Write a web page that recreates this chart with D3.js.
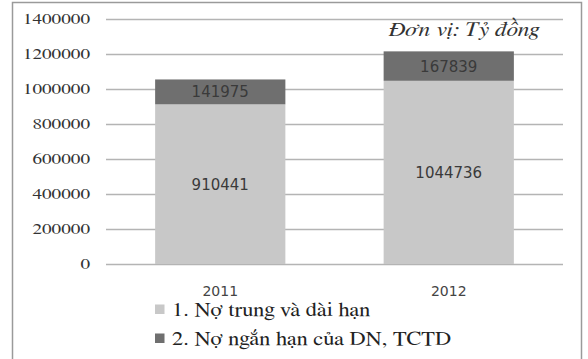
<!DOCTYPE html>
<html>
<head>
<meta charset="utf-8">
<script src="https://cdn.jsdelivr.net/npm/d3@7/dist/d3.min.js"></script>
</head>
<body style="margin:0">
<svg id="chart" width="588" height="359"></svg>
<script>
// Debt structure by year (unit: billion VND)
const years = ["2011", "2012"];
const longTerm = [910441, 1044736];
const shortTerm = [141975, 167839];
const seriesNames = ["1. Nợ trung và dài hạn", "2. Nợ ngắn hạn của DN, TCTD"];
const yTicks = [0, 200000, 400000, 600000, 800000, 1000000, 1200000, 1400000];
const unitLabel = "Đơn vị: Tỷ đồng";

const colors = ["#c8c8c8", "#6f6f6f"];
const SANS = "DejaVu Sans";

const svg = d3.select("#chart");

// outer frame
svg.append("rect")
  .attr("x", 12.5).attr("y", 2.5)
  .attr("width", 569).attr("height", 370)
  .attr("fill", "#fff")
  .attr("stroke", "#9a9a9a").attr("stroke-width", 1.5);

const plot = { left: 106, right: 563, top: 18.5, bottom: 264 };

const x = d3.scaleBand()
  .domain(years)
  .range([plot.left, plot.right])
  .paddingInner(0.43)
  .paddingOuter(0.215);

const y = d3.scaleLinear()
  .domain([0, 1400000])
  .range([plot.bottom, plot.top]);

// gridlines
svg.append("g")
  .selectAll("line")
  .data(yTicks)
  .join("line")
  .attr("x1", plot.left).attr("x2", plot.right)
  .attr("y1", d => Math.round(y(d)) + 0.5)
  .attr("y2", d => Math.round(y(d)) + 0.5)
  .attr("stroke", "#b4b4b4").attr("stroke-width", 1.3);

// y tick labels (wide serif digits)
yTicks.forEach(t => {
  svg.append("text")
    .attr("style", "font-family: FreeSerif; font-size: 16px")
    .attr("transform", `translate(90,${y(t) + 5}) scale(1.2,1)`)
    .attr("text-anchor", "end")
    .attr("fill", "#333")
    .text(String(t));
});

// stacked data
const rows = years.map((yr, i) => ({ year: yr, a: longTerm[i], b: shortTerm[i] }));
const stack = d3.stack().keys(["a", "b"]);
const layers = stack(rows);

layers.forEach((layer, li) => {
  svg.append("g")
    .selectAll("rect")
    .data(layer)
    .join("rect")
    .attr("x", d => x(d.data.year))
    .attr("width", x.bandwidth())
    .attr("y", d => y(d[1]))
    .attr("height", d => y(d[0]) - y(d[1]))
    .attr("fill", colors[li]);
});

// value labels
layers.forEach((layer, li) => {
  layer.forEach(d => {
    svg.append("text")
      .attr("font-family", SANS)
      .attr("font-size", 15)
      .attr("x", x(d.data.year) + x.bandwidth() / 2)
      .attr("y", (y(d[0]) + y(d[1])) / 2 + 5.5)
      .attr("text-anchor", "middle")
      .attr("fill", "#3a3a3a")
      .text(String(d.data[li === 0 ? "a" : "b"]));
  });
});

// x axis labels
years.forEach(yr => {
  svg.append("text")
    .attr("font-family", SANS)
    .attr("font-size", 14)
    .attr("x", x(yr) + x.bandwidth() / 2)
    .attr("y", 296)
    .attr("text-anchor", "middle")
    .attr("fill", "#444")
    .text(yr);
});

// unit note
svg.append("text")
  .attr("style", "font-family: FreeSerif; font-style: italic; font-size: 21px")
  .attr("transform", "translate(464,36) scale(1.12,1)")
  .attr("text-anchor", "middle")
  .attr("fill", "#333")
  .text(unitLabel);

// legend
seriesNames.forEach((name, i) => {
  const ly = 309 + i * 29;
  svg.append("rect")
    .attr("x", 155).attr("y", ly - 4.5)
    .attr("width", 9.5).attr("height", 9.5)
    .attr("fill", colors[i]);
  svg.append("text")
    .attr("style", "font-family: FreeSerif; font-size: 20px")
    .attr("transform", `translate(172,${ly + 7}) scale(1.12,1)`)
    .attr("fill", "#222")
    .text(name);
});
</script>
</body>
</html>
